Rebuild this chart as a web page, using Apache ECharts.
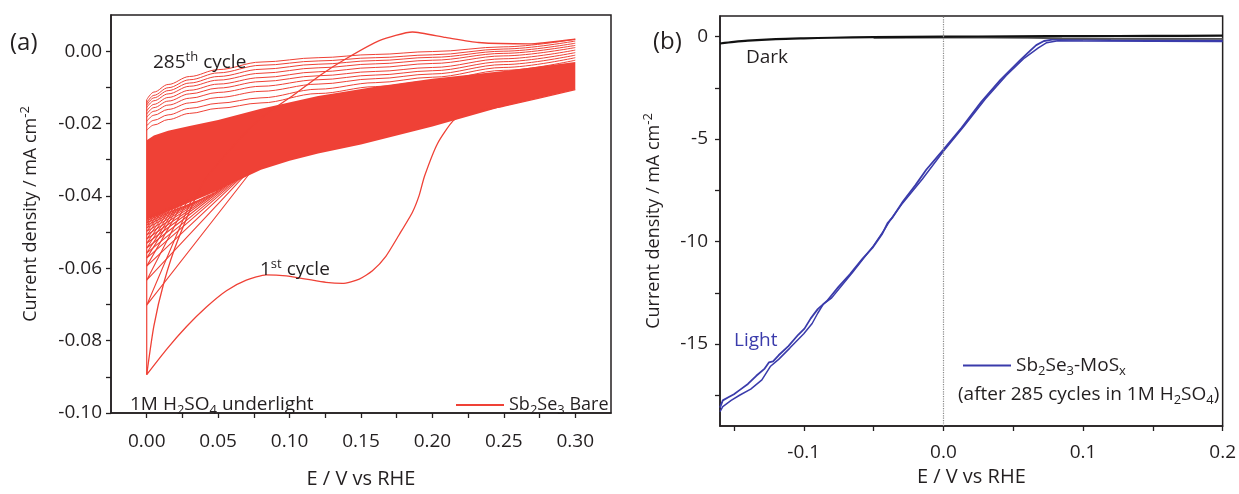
<!DOCTYPE html>
<html>
<head>
<meta charset="utf-8">
<script src="https://cdn.jsdelivr.net/npm/echarts@6/dist/echarts.min.js"></script>
<style>
  html, body { margin: 0; padding: 0; background: #fff; }
  #main { width: 1239px; height: 494px; }
</style>
</head>
<body>
<div id="main"></div>
<script>
// ---- panel (a): Sb2Se3 bare, 285 CV cycles ----
const xGridA = [0, 0.005, 0.015, 0.03, 0.05, 0.08, 0.12, 0.16, 0.2, 0.25, 0.3]
// later cycles that stay visible above the dense band (one row per trace)
const upperCycles = [
  [-0.0134, -0.0113, -0.0092, -0.0070, -0.0051, -0.0030, -0.0018, -0.0009, -0.0001, 0.0012, 0.0033],
  [-0.0143, -0.0122, -0.0101, -0.0079, -0.0060, -0.0039, -0.0027, -0.0018, -0.0010, 0.0006, 0.0028],
  [-0.0149, -0.0129, -0.0109, -0.0088, -0.0070, -0.0050, -0.0036, -0.0026, -0.0017, 0.0000, 0.0022],
  [-0.0156, -0.0137, -0.0118, -0.0097, -0.0080, -0.0061, -0.0046, -0.0035, -0.0025, -0.0006, 0.0016],
  [-0.0165, -0.0147, -0.0128, -0.0108, -0.0091, -0.0073, -0.0057, -0.0045, -0.0034, -0.0013, 0.0010],
  [-0.0174, -0.0156, -0.0138, -0.0118, -0.0102, -0.0084, -0.0068, -0.0056, -0.0045, -0.0021, 0.0003],
  [-0.0183, -0.0166, -0.0149, -0.0130, -0.0114, -0.0097, -0.0079, -0.0066, -0.0054, -0.0029, -0.0004],
  [-0.0194, -0.0177, -0.0161, -0.0143, -0.0128, -0.0111, -0.0091, -0.0076, -0.0063, -0.0037, -0.0011],
  [-0.0206, -0.0191, -0.0176, -0.0158, -0.0144, -0.0129, -0.0105, -0.0087, -0.0072, -0.0045, -0.0018],
  [-0.0219, -0.0204, -0.0189, -0.0172, -0.0158, -0.0143, -0.0117, -0.0098, -0.0082, -0.0053, -0.0025]
]
// outline of the solid band made by the overlapping cycles
const bandTop = [[0, -0.0246], [0.005, -0.0233], [0.015, -0.0220], [0.03, -0.0207], [0.05, -0.0190], [0.08, -0.0159],
  [0.12, -0.0124], [0.16, -0.0098], [0.2, -0.0076], [0.25, -0.0055], [0.3, -0.0030]]
const bandBottom = [[0.3, -0.0106], [0.25, -0.0152], [0.2, -0.0208], [0.15, -0.0258], [0.12, -0.0283], [0.1, -0.0303],
  [0.08, -0.0328], [0.065, -0.0355], [0.05, -0.0385], [0.035, -0.0410], [0.02, -0.0435], [0.008, -0.0455], [0, -0.0465]]
// early cycles fanning out at 0 V
const fanVertexY = [-0.0702, -0.0633, -0.0594, -0.0572, -0.0558, -0.0544, -0.0531, -0.0519, -0.0508, -0.0498, -0.0489, -0.0481, -0.0474, -0.0468]
const fanCathStart = [[0.072, -0.0338], [0.068, -0.0346], [0.065, -0.0353], [0.062, -0.0360], [0.059, -0.0366], [0.056, -0.0372], [0.053, -0.0378],
  [0.050, -0.0385], [0.047, -0.0391], [0.044, -0.0397], [0.041, -0.0403], [0.038, -0.0409], [0.035, -0.0414], [0.032, -0.0420]]
const fanAnodEnd = [[0.032, -0.0405], [0.029, -0.0410], [0.026, -0.0415], [0.024, -0.0418], [0.022, -0.0422], [0.020, -0.0425], [0.018, -0.0428],
  [0.016, -0.0432], [0.014, -0.0435], [0.012, -0.0438], [0.010, -0.0442], [0.008, -0.0445], [0.006, -0.0448], [0.004, -0.0450]]
const leftEdge = [[0, -0.0134], [0, -0.0894]]
const firstCycle = [
  [0.30, -0.0106], [0.25, -0.0152], [0.225, -0.0172], [0.2146, -0.0192], [0.2036, -0.0255], [0.1945, -0.0345], [0.1906, -0.0400],
  [0.186, -0.0445], [0.1766, -0.0508], [0.1674, -0.0567], [0.158, -0.0607], [0.1488, -0.0630], [0.137, -0.0642], [0.1255, -0.0639],
  [0.1116, -0.0630], [0.0976, -0.0621], [0.0837, -0.0618], [0.0697, -0.0633], [0.0558, -0.0662], [0.0418, -0.0707], [0.0279, -0.0761],
  [0.0139, -0.0824], [0, -0.0894],
  [0.005, -0.0760], [0.012, -0.0640], [0.022, -0.0520], [0.04, -0.0360], [0.06, -0.0265], [0.08, -0.0185], [0.1046, -0.0116],
  [0.122, -0.0065], [0.1395, -0.0021], [0.1628, 0.0029], [0.186, 0.0053], [0.2092, 0.0038], [0.2323, 0.0024], [0.2672, 0.0020], [0.30, 0.0033]
]
const xTicksA = [0, 0.05, 0.1, 0.15, 0.2, 0.25, 0.3]
const xMinorA = [0, 0.025, 0.05, 0.075, 0.1, 0.125, 0.15, 0.175, 0.2, 0.225, 0.25, 0.275, 0.3]
const yTicksA = [-0.1, -0.08, -0.06, -0.04, -0.02, 0]
const yMinorA = [-0.1, -0.09, -0.08, -0.07, -0.06, -0.05, -0.04, -0.03, -0.02, -0.01, 0]

// ---- panel (b): Sb2Se3-MoSx LSV ----
const lightFwd = [[-0.160, -18.1], [-0.158, -17.75], [-0.154, -17.6], [-0.150, -17.45], [-0.146, -17.25], [-0.140, -16.95], [-0.134, -16.55],
  [-0.128, -16.2], [-0.125, -15.9], [-0.122, -15.85], [-0.118, -15.55], [-0.111, -15.1], [-0.104, -14.55], [-0.0995, -14.25], [-0.095, -13.75],
  [-0.090, -13.3], [-0.0834, -12.9], [-0.075, -12.2], [-0.067, -11.6], [-0.058, -10.85], [-0.0507, -10.3], [-0.044, -9.65], [-0.040, -9.1],
  [-0.0367, -8.85], [-0.029, -8.05], [-0.020, -7.25], [-0.0123, -6.5], [0, -5.52], [0.013, -4.45], [0.027, -3.2], [0.041, -2.1], [0.055, -1.15],
  [0.062, -0.7], [0.0665, -0.42], [0.072, -0.22], [0.078, -0.15], [0.09, -0.15], [0.12, -0.17], [0.16, -0.18], [0.2, -0.19]]
const lightRev = [[0.2, -0.24], [0.15, -0.23], [0.1, -0.22], [0.082, -0.21], [0.074, -0.3], [0.068, -0.55], [0.058, -1.05], [0.045, -1.9],
  [0.03, -3.05], [0.015, -4.35], [0, -5.6], [-0.015, -6.95], [-0.03, -8.2], [-0.038, -8.95], [-0.042, -9.4], [-0.05, -10.2], [-0.065, -11.5],
  [-0.08, -12.75], [-0.086, -13.05], [-0.09, -13.5], [-0.094, -14.0], [-0.1, -14.5], [-0.11, -15.2], [-0.118, -15.75], [-0.124, -16.1],
  [-0.13, -16.75], [-0.138, -17.2], [-0.146, -17.5], [-0.152, -17.75], [-0.158, -18.05], [-0.16, -18.3]]
const darkFwd = [[-0.16, -0.34], [-0.15, -0.26], [-0.14, -0.2], [-0.12, -0.13], [-0.1, -0.09], [-0.08, -0.06], [-0.05, -0.03], [0, -0.01],
  [0.05, 0.01], [0.1, 0.02], [0.15, 0.03], [0.2, 0.04]]
const darkRev = [[0.2, -0.12], [0.15, -0.11], [0.1, -0.1], [0.085, -0.09], [0.06, -0.06], [0.03, -0.05], [0, -0.05], [-0.05, -0.06]]
const xTicksB = [-0.1, 0, 0.1, 0.2]
const xMinorB = [-0.15, -0.1, -0.05, 0, 0.05, 0.1, 0.15, 0.2]
const yTicksB = [0, -5, -10, -15]
const yMinorB = [0, -2.5, -5, -7.5, -10, -12.5, -15, -17.5]

const FONT = '"Open Sans", sans-serif'
const INK = '#231f20'
const RED = '#ef4136'
const BLUE = '#3a3bab'

function richStyles (size, color) {
  return {
    n: { fontSize: size, lineHeight: 24, fontFamily: FONT, color: color, fill: color, verticalAlign: 'middle' },
    s: { fontSize: 13, lineHeight: 13, fontFamily: FONT, color: color, fill: color, verticalAlign: 'bottom' },
    p: { fontSize: 13, lineHeight: 13, fontFamily: FONT, color: color, fill: color, verticalAlign: 'top' }
  }
}

function label (x, y, text, size, color) {
  const c = color || INK
  const fs = size || 19
  return {
    type: 'text', x: x, y: y, z: 100,
    style: { text: text, fill: c, fontSize: fs, fontFamily: FONT, verticalAlign: 'middle', rich: richStyles(fs, c) }
  }
}

function axis (opts) {
  return Object.assign({
    type: 'value',
    splitLine: { show: false },
    axisLine: { show: true, onZero: false, lineStyle: { color: INK, width: 1.5 } },
    nameLocation: 'middle',
    nameTextStyle: { fontFamily: FONT, fontSize: 20, color: INK, rich: richStyles(20, INK) }
  }, opts)
}

function ticks (values) {
  return { show: true, length: 5, customValues: values, lineStyle: { color: INK, width: 1.3 } }
}

function labels (values, fmt, margin) {
  return { customValues: values, formatter: fmt, margin: margin, fontFamily: FONT, fontSize: 19, color: INK }
}

function redLine (data, width) {
  return {
    type: 'line', name: 'Sb2Se3 Bare', color: RED, xAxisIndex: 0, yAxisIndex: 0,
    data: data, symbol: 'none', lineStyle: { color: RED, width: width || 1 }
  }
}

const seriesA = [
  Object.assign(redLine(firstCycle, 1.3), { smooth: 0.2 }),
  {
    type: 'custom', name: 'Sb2Se3 Bare', xAxisIndex: 0, yAxisIndex: 0,
    data: bandTop.concat(bandBottom),
    renderItem: function (params, api) {
      if (params.dataIndex !== 0) return null
      const pts = bandTop.concat(bandBottom).map(p => api.coord(p))
      return { type: 'polygon', shape: { points: pts }, style: { fill: RED } }
    }
  },
  redLine(leftEdge, 1.2)
]
upperCycles.forEach(ys => {
  seriesA.push(Object.assign(redLine(xGridA.map((x, i) => [x, ys[i]]), 1), { smooth: 0.35, smoothMonotone: 'x' }))
})
fanVertexY.forEach((vy, i) => {
  seriesA.push(redLine([fanCathStart[i], [0, vy], fanAnodEnd[i]], 1.1))
})

const seriesB = [
  {
    type: 'line', name: 'Sb2Se3-MoSx', color: BLUE, xAxisIndex: 1, yAxisIndex: 1, data: lightFwd,
    symbol: 'none', lineStyle: { color: BLUE, width: 1.8 },
    markLine: {
      silent: true, symbol: 'none', label: { show: false },
      lineStyle: { color: '#8a8a8a', type: 'dotted', width: 1.2 },
      data: [{ xAxis: 0 }]
    }
  },
  { type: 'line', name: 'Sb2Se3-MoSx', color: BLUE, xAxisIndex: 1, yAxisIndex: 1, data: lightRev, symbol: 'none', lineStyle: { color: BLUE, width: 1.5 } },
  { type: 'line', name: 'Dark', color: '#111', xAxisIndex: 1, yAxisIndex: 1, data: darkRev, symbol: 'none', lineStyle: { color: '#555', width: 1.8 } },
  { type: 'line', name: 'Dark', color: '#111', xAxisIndex: 1, yAxisIndex: 1, data: darkFwd, smooth: 0.3, symbol: 'none', lineStyle: { color: '#111', width: 2.2 } }
]

const chart = echarts.init(document.getElementById('main'))
chart.setOption({
  animation: false,
  backgroundColor: '#fff',
  grid: [
    { left: 111, top: 15, width: 500, height: 407, show: true, borderColor: INK, borderWidth: 1.5 },
    { left: 720, top: 16, width: 506, height: 410, show: true, borderColor: INK, borderWidth: 1.5 }
  ],
  xAxis: [
    axis({
      gridIndex: 0, min: -0.025, max: 0.325,
      axisTick: ticks(xMinorA), axisLabel: labels(xTicksA, v => v.toFixed(2), 19),
      name: 'E / V vs RHE', nameGap: 56
    }),
    axis({
      gridIndex: 1, min: -0.16, max: 0.2,
      axisTick: ticks(xMinorB), axisLabel: labels(xTicksB, v => v.toFixed(1), 17),
      name: 'E / V vs RHE', nameGap: 40
    })
  ],
  yAxis: [
    axis({
      gridIndex: 0, min: -0.1, max: 0.01,
      axisTick: ticks(yMinorA), axisLabel: labels(yTicksA, v => v.toFixed(2), 9),
      name: '{n|Current density / mA cm}{p|-2}', nameRotate: 90, nameGap: 68,
      nameTextStyle: { fontFamily: FONT, fontSize: 18, color: INK, rich: richStyles(18, INK) }
    }),
    axis({
      gridIndex: 1, min: -19, max: 1,
      axisTick: ticks(yMinorB), axisLabel: labels(yTicksB, v => String(v), 12),
      name: '{n|Current density / mA cm}{p|-2}', nameRotate: 90, nameGap: 54,
      nameTextStyle: { fontFamily: FONT, fontSize: 18, color: INK, rich: richStyles(18, INK) }
    })
  ],
  legend: [
    {
      data: ['Sb2Se3 Bare'], left: 451, top: 391, icon: 'rect', itemWidth: 48, itemHeight: 2,
      formatter: () => '{n|Sb}{s|2}{n|Se}{s|3}{n| Bare}',
      textStyle: { fontFamily: FONT, fontSize: 18, color: INK, rich: richStyles(18, INK) }
    },
    {
      data: ['Sb2Se3-MoSx'], left: 958, top: 351, icon: 'rect', itemWidth: 48, itemHeight: 2,
      formatter: () => '{n|Sb}{s|2}{n|Se}{s|3}{n|-MoS}{s|x}',
      textStyle: { fontFamily: FONT, fontSize: 19, color: INK, rich: richStyles(19, INK) }
    }
  ],
  graphic: [
    label(10, 43, '(a)', 24),
    label(153, 63, '{n|285}{p|th}{n| cycle}'),
    label(260, 270, '{n|1}{p|st}{n| cycle}'),
    label(130, 405, '{n|1M H}{s|2}{n|SO}{s|4}{n| underlight}'),
    label(653, 42, '(b)', 24),
    label(746, 58, 'Dark'),
    label(734, 341, 'Light', 19, BLUE),
    label(958, 395, '{n|(after 285 cycles in 1M H}{s|2}{n|SO}{s|4}{n|)}')
  ],
  series: seriesA.concat(seriesB)
})
</script>
</body>
</html>
